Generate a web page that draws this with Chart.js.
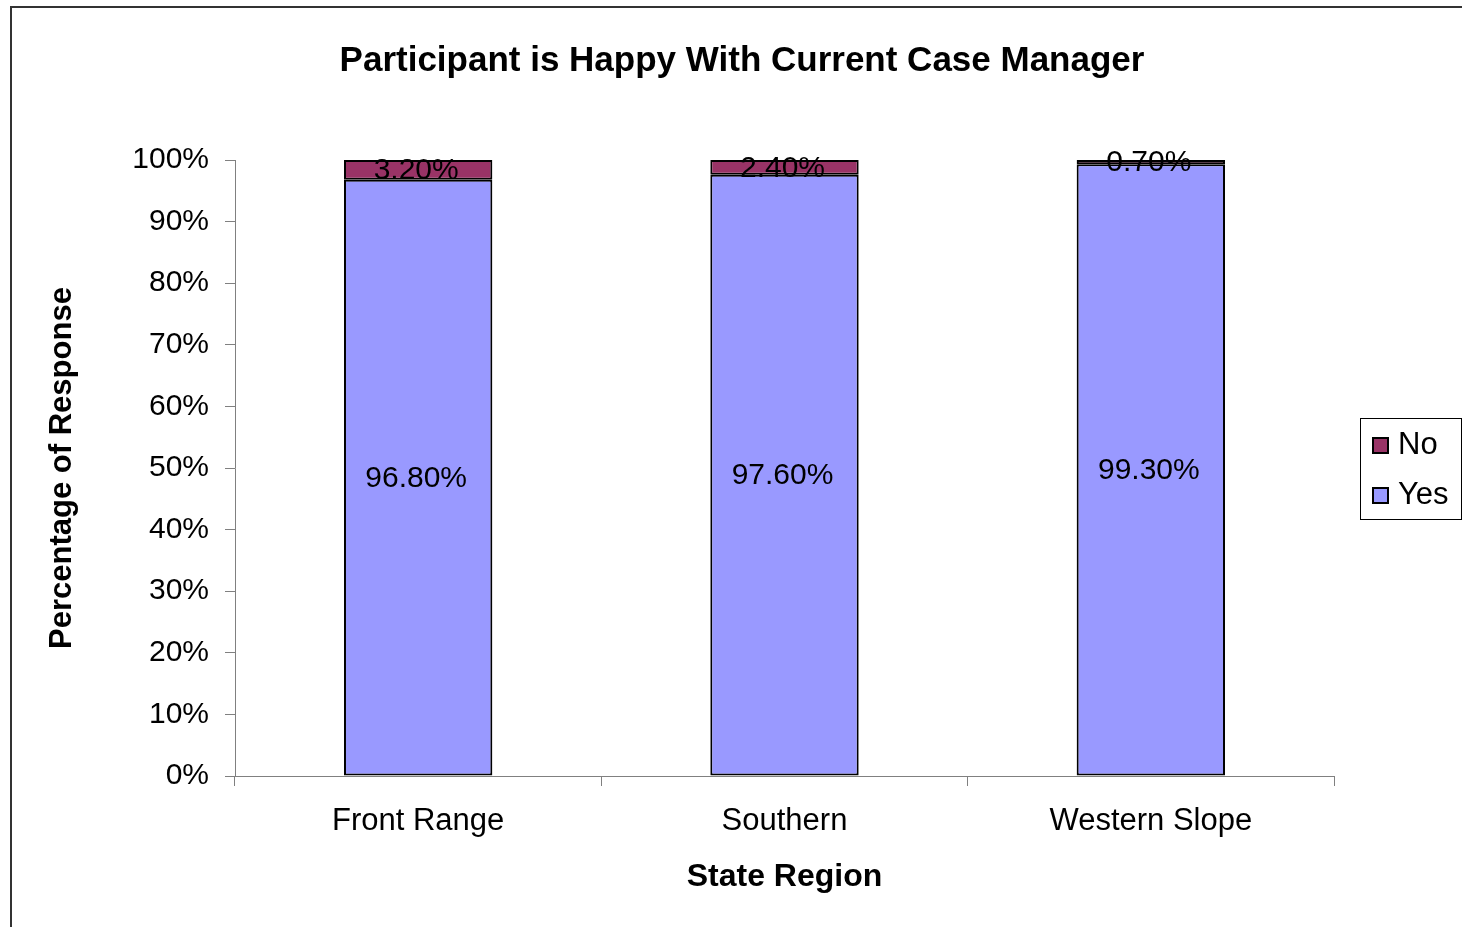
<!DOCTYPE html>
<html>
<head>
<meta charset="utf-8">
<script src="https://cdn.jsdelivr.net/npm/chart.js@4.4.1/dist/chart.umd.min.js"></script>
<style>
  html, body { margin: 0; padding: 0; background: #ffffff; }
  #wrap { width: 1462px; height: 927px; position: relative; }
</style>
</head>
<body>
<div id="wrap"><canvas id="c" width="1462" height="927"></canvas></div>
<script>
const chartTitle = 'Participant is Happy With Current Case Manager';
const xAxisTitle = 'State Region';
const yAxisTitle = 'Percentage of Response';
const categories = ['Front Range', 'Southern', 'Western Slope'];
const seriesNames = ['Yes', 'No'];
const yesValues = [96.8, 97.6, 99.3];
const noValues = [3.2, 2.4, 0.7];
const yTickValues = [0, 10, 20, 30, 40, 50, 60, 70, 80, 90, 100];

const FONT = "'Liberation Sans', Arial, Helvetica, sans-serif";
const COLOR_YES = '#9999FF';
const COLOR_NO = '#993366';

const framePlugin = {
  id: 'frame',
  beforeDraw(chart) {
    const ctx = chart.ctx;
    ctx.save();
    ctx.fillStyle = '#ffffff';
    ctx.fillRect(0, 0, chart.width, chart.height);
    ctx.strokeStyle = '#333333';
    ctx.lineWidth = 2;
    ctx.strokeRect(11, 7, chart.width + 20, chart.height + 20);
    ctx.restore();
  },
  afterDraw(chart) {
    const ctx = chart.ctx;
    ctx.save();
    // chart title
    ctx.fillStyle = '#000000';
    ctx.font = 'bold 35px ' + FONT;
    ctx.textAlign = 'center';
    ctx.textBaseline = 'middle';
    ctx.fillText(chartTitle, 742, 61);

    // legend (No first, then Yes, as in reference)
    ctx.lineWidth = 1;
    ctx.strokeStyle = '#000000';
    ctx.strokeRect(1360.5, 418.5, 101, 101);
    const order = [1, 0];
    const ys = [437, 487];
    order.forEach((di, k) => {
      const ds = chart.data.datasets[di];
      ctx.fillStyle = ds.backgroundColor;
      ctx.fillRect(1372, ys[k], 17, 17);
      ctx.lineWidth = 2;
      ctx.strokeRect(1373, ys[k] + 1, 15, 15);
      ctx.fillStyle = '#000000';
      ctx.font = '31px ' + FONT;
      ctx.textAlign = 'left';
      ctx.textBaseline = 'middle';
      ctx.fillText(ds.label, 1398, ys[k] + 8);
    });

    // data labels
    ctx.font = '30px ' + FONT;
    ctx.textAlign = 'center';
    ctx.textBaseline = 'middle';
    ctx.fillStyle = '#000000';
    chart.data.datasets.forEach((ds, di) => {
      const meta = chart.getDatasetMeta(di);
      meta.data.forEach((el, i) => {
        const v = ds.data[i];
        const cy = (el.y + el.base) / 2;
        ctx.fillText(v.toFixed(2) + '%', el.x - 2, cy + 1);
      });
    });
    ctx.restore();
  }
};

new Chart(document.getElementById('c'), {
  type: 'bar',
  data: {
    labels: categories,
    datasets: [
      { label: seriesNames[0], data: yesValues, backgroundColor: COLOR_YES, borderColor: '#000000', borderWidth: 2, borderSkipped: false },
      { label: seriesNames[1], data: noValues, backgroundColor: COLOR_NO, borderColor: '#000000', borderWidth: 2, borderSkipped: false }
    ]
  },
  options: {
    responsive: false,
    animation: false,
    layout: { padding: { top: 160, right: 128, left: 0, bottom: 0 } },
    datasets: { bar: { barPercentage: 0.405, categoryPercentage: 1.0 } },
    plugins: {
      legend: { display: false },
      title: { display: false },
      tooltip: { enabled: false }
    },
    scales: {
      x: {
        stacked: true,
        grid: { display: true, offset: true, drawOnChartArea: false, tickLength: 10, color: '#808080', lineWidth: 1 },
        border: { display: true, color: '#808080', width: 1 },
        ticks: { color: '#000000', font: { family: FONT, size: 31 }, padding: 17, maxRotation: 0 },
        title: { display: true, text: xAxisTitle, color: '#000000', font: { family: FONT, size: 32, weight: 'bold' }, padding: { top: 0, bottom: 31 } },
        afterFit(scale) { scale.height = 151; }
      },
      y: {
        stacked: true,
        min: 0,
        max: 100,
        afterBuildTicks(scale) { scale.ticks = yTickValues.map(v => ({ value: v })); },
        grid: { display: true, drawOnChartArea: false, tickLength: 10, color: '#808080', lineWidth: 1 },
        border: { display: true, color: '#808080', width: 1 },
        ticks: { color: '#000000', font: { family: FONT, size: 30 }, padding: 16, callback: v => v + '%' },
        title: { display: true, text: yAxisTitle, color: '#000000', font: { family: FONT, size: 31, weight: 'bold' }, padding: { top: 44, bottom: 0 } },
        afterFit(scale) { scale.width = 235; }
      }
    }
  },
  plugins: [framePlugin]
});
</script>
</body>
</html>
